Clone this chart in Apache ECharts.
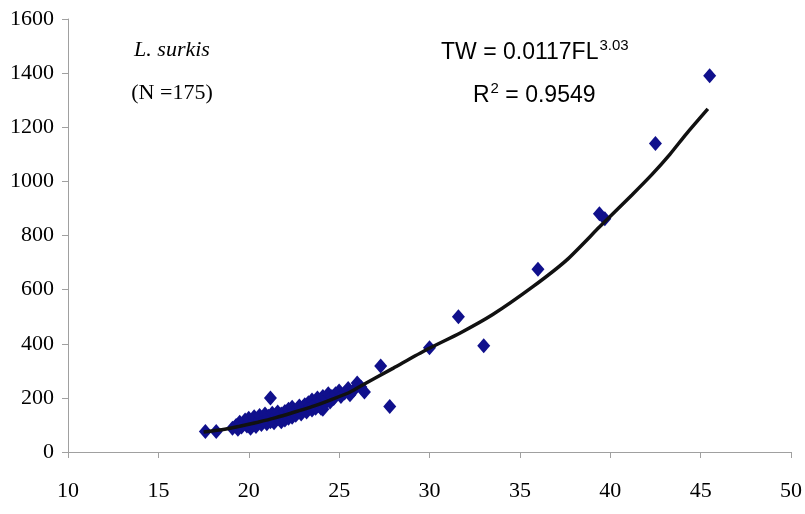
<!DOCTYPE html>
<html>
<head>
<meta charset="utf-8">
<script src="https://cdn.jsdelivr.net/npm/echarts@6/dist/echarts.min.js"></script>
<style>html,body{margin:0;padding:0;background:#fff}#c{width:805px;height:514px}</style>
</head>
<body>
<div id="c"></div>
<script>
// Observed fish: fork length (FL) and total weight (TW)
var obsFL = [17.6,18.2,19.1,19.3,19.4,19.5,19.6,19.7,19.8,19.9,20.0,20.0,20.1,20.2,20.3,20.3,20.4,20.5,20.6,20.6,20.7,20.8,20.9,20.9,21.0,21.0,21.1,21.2,21.2,21.3,21.3,21.4,21.5,21.5,21.6,21.7,21.8,21.8,21.9,22.0,22.0,22.1,22.2,22.2,22.3,22.4,22.4,22.5,22.6,22.7,22.7,22.8,22.9,23.0,23.0,23.1,23.2,23.3,23.3,23.4,23.5,23.5,23.6,23.7,23.8,23.8,23.9,24.0,24.0,24.1,24.1,24.2,24.3,24.4,24.5,24.6,24.7,24.8,25.0,25.1,25.3,25.5,25.6,25.8,26.0,26.2,26.4,27.3,27.8,30.0,31.6,33.0,36.0,39.4,39.7,42.5,45.5];
var obsTW = [76,76,88,98,84,110,92,103,118,96,108,125,88,100,115,130,94,108,120,135,102,112,126,140,104,118,132,200,112,124,143,108,118,135,148,122,112,140,128,118,150,135,125,158,142,128,165,150,136,158,145,170,140,152,165,175,148,160,182,170,155,192,175,162,185,200,170,162,190,158,205,178,195,215,185,205,198,215,225,205,218,235,212,228,255,240,222,318,168,385,500,393,675,880,862,1140,1390];
// Fitted power trend line
var fitFL = [17.5,18.5,19.5,20.5,21.5,22.5,23.5,24.5,25.5,26.1,28.0,29.8,31.7,33.5,35.7,37.6,39.4,41.2,42.3,43.3,44.2,45.4];
var fitTW = [74,82,95,110,127,147,168,192,218,240,310,377,440,508,610,710,831,950,1025,1100,1175,1268];
// Axis ticks
var xTicks = [10,15,20,25,30,35,40,45,50];
var yTicks = [0,200,400,600,800,1000,1200,1400,1600];

var scatterData = obsFL.map(function(v,i){return [v, obsTW[i]];});
var lineData = fitFL.map(function(v,i){return [v, fitTW[i]];});

var chart = echarts.init(document.getElementById('c'));
var serif = "'Liberation Serif','Times New Roman',serif";
var sans = "'Liberation Sans Narrow','Liberation Sans',Arial,sans-serif";
chart.setOption({
  animation:false,
  backgroundColor:'#fff',
  grid:{left:68,right:13,top:19,bottom:62,containLabel:false},
  xAxis:{type:'value',min:xTicks[0],max:xTicks[xTicks.length-1],interval:5,
    axisLine:{onZero:false,lineStyle:{color:'#a0a0a0',width:1}},
    axisTick:{show:true,length:6,lineStyle:{color:'#a0a0a0'}},
    splitLine:{show:false},
    axisLabel:{color:'#000',fontFamily:serif,fontSize:22,margin:28,formatter:function(v){return String(v);}}},
  yAxis:{type:'value',min:yTicks[0],max:yTicks[yTicks.length-1],interval:200,
    axisLine:{show:true,lineStyle:{color:'#a0a0a0',width:1}},
    axisTick:{show:true,length:6,lineStyle:{color:'#a0a0a0'}},
    splitLine:{show:false},
    axisLabel:{color:'#000',fontFamily:serif,fontSize:22,margin:14,formatter:function(v){return String(v);}}},
  series:[
    {type:'scatter',data:scatterData,symbol:'diamond',symbolSize:[13,15],
     itemStyle:{color:'#10108c',opacity:1},z:2},
    {type:'line',data:lineData,smooth:0.2,showSymbol:false,symbol:'none',
     lineStyle:{color:'#111',width:3.5},z:3}
  ],
  graphic:[
    {type:'text',position:[172,50],style:{text:'L. surkis',fontFamily:serif,fontStyle:'italic',fontSize:22,fill:'#000',align:'center',verticalAlign:'middle'},silent:true},
    {type:'text',position:[172,93],style:{text:'(N =175)',fontFamily:serif,fontSize:22,fill:'#000',align:'center',verticalAlign:'middle'},silent:true},
    {type:'text',position:[441,38],style:{text:'{a|TW = 0.0117FL}{b|3.03}',rich:{a:{fontFamily:sans,fontSize:23,fill:'#000',lineHeight:26,verticalAlign:'bottom'},b:{fontFamily:sans,fontSize:15,fill:'#000',verticalAlign:'top',lineHeight:26,padding:[0,0,12,1]}}},silent:true},
    {type:'text',position:[473,81],style:{text:'{a|R}{b|2}{a| = 0.9549}',rich:{a:{fontFamily:sans,fontSize:23,fill:'#000',lineHeight:26,verticalAlign:'bottom'},b:{fontFamily:sans,fontSize:15,fill:'#000',verticalAlign:'top',lineHeight:26,padding:[0,0,12,1]}}},silent:true}
  ]
});
</script>
</body>
</html>
